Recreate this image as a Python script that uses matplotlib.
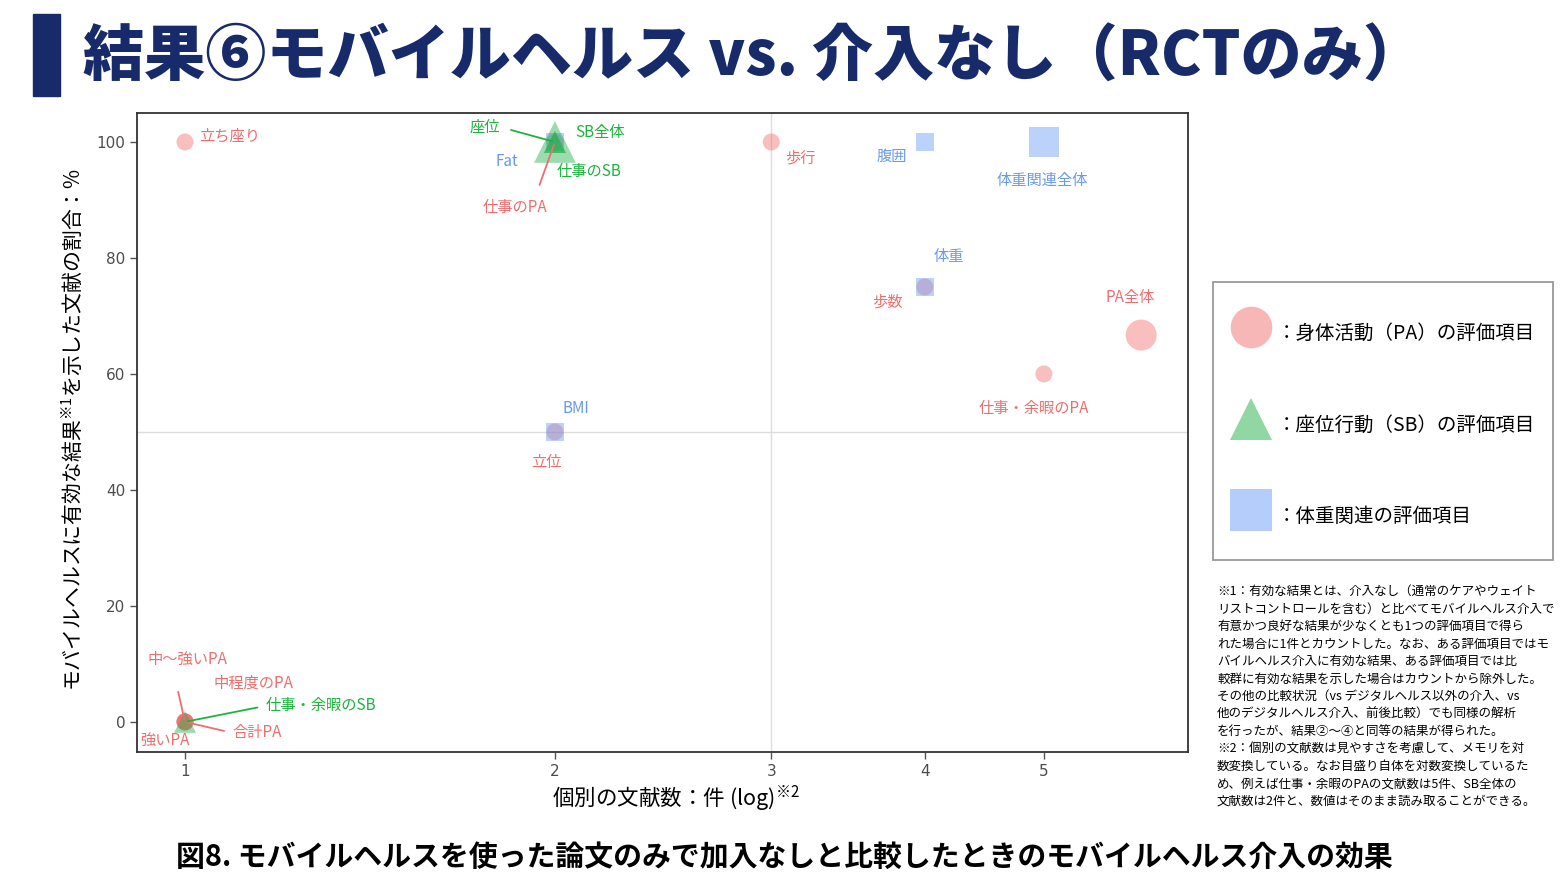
import matplotlib
matplotlib.use("Agg")
import matplotlib.pyplot as plt
from matplotlib.lines import Line2D
from matplotlib.patches import Rectangle

plt.rcParams['font.family'] = ['Noto Sans CJK JP', 'DejaVu Sans']
plt.rcParams['mathtext.fontset'] = 'custom'
plt.rcParams['mathtext.rm'] = 'Noto Sans CJK JP'
plt.rcParams['mathtext.it'] = 'Noto Sans CJK JP'

# data: number of studies (x) and % with an effective result (y)
pa_labels = ['立ち座り', '仕事のPA', '歩行', '歩数', 'PA全体', '仕事・余暇のPA', '立位',
             '中〜強いPA', '中程度のPA', '強いPA', '合計PA']
pa_n = [1, 2, 3, 4, 6, 5, 2, 1, 1, 1, 1]
pa_pct = [100, 100, 100, 75, 66.7, 60, 50, 0, 0, 0, 0]

sb_labels = ['座位', 'SB全体', '仕事のSB', '仕事・余暇のSB']
sb_n = [2, 2, 2, 1]
sb_pct = [100, 100, 100, 0]

wt_labels = ['腹囲', '体重関連全体', 'Fat', '体重', 'BMI']
wt_n = [4, 5, 2, 4, 2]
wt_pct = [100, 100, 100, 75, 50]

x_ticks = [1, 2, 3, 4, 5]
y_ticks = [0, 20, 40, 60, 80, 100]
ref_x, ref_y = 3, 50

legend_labels = ['：身体活動（PA）の評価項目', '：座位行動（SB）の評価項目', '：体重関連の評価項目']

# label placement (offset in pixels from the point), leader line settings
offsets = {
    '立ち座り': (14, 6, 'left'), '仕事のPA': (-40, -66, 'center'), '歩行': (29, -16, 'center'),
    '歩数': (-37, -15, 'center'), 'PA全体': (-11, 38, 'center'), '仕事・余暇のPA': (-10, -35, 'center'),
    '立位': (-8, -31, 'center'), '中〜強いPA': (2, 63, 'center'), '中程度のPA': (68, 39, 'center'),
    '強いPA': (-20, -18, 'center'), '合計PA': (72, -11, 'center'),
    '座位': (-70, 15, 'center'), 'SB全体': (45, 9, 'center'), '仕事のSB': (34, -30, 'center'),
    '仕事・余暇のSB': (136, 16, 'center'),
    '腹囲': (-33, -14, 'center'), '体重関連全体': (-2, -38, 'center'), 'Fat': (-48, -20, 'center'),
    '体重': (24, 30, 'center'), 'BMI': (21, 23, 'center'),
}
leaders = {'仕事のPA': (0.8, 1.0, 9), '中〜強いPA': (0.32, 0.0, 16), '合計PA': (0.0, 0.5, 4),
           '座位': (1.0, 0.5, 6), '仕事・余暇のSB': (0.0, 0.5, 4)}

# drawing order: PA circles, weight squares, SB triangles
groups = [
    (pa_labels, pa_n, pa_pct, 'o', '#F06060', 0.40, '#EC6F6F', 150, 500),
    (wt_labels, wt_n, wt_pct, 's', '#6A9DF8', 0.45, '#6A9BEA', 170, 470),
    (sb_labels, sb_n, sb_pct, '^', '#22B04A', 0.45, '#1DB33F', 250, 900),
]

fig = plt.figure(figsize=(15.68, 8.82), dpi=100)
ax = fig.add_axes([137 / 1568, 130 / 882, 1051 / 1568, 639 / 882])

ax.axhline(ref_y, color='#DDDDDD', lw=1, zorder=0)
ax.axvline(ref_x, color='#DDDDDD', lw=1, zorder=0)

for labels, ns, pcts, mk, fc, al, tc, s_small, s_big in groups:
    sizes = [s_big if lb.endswith('全体') else s_small for lb in labels]
    ax.scatter(ns, pcts, s=sizes, marker=mk, color=fc, alpha=al, edgecolors='none', zorder=2)
    for lb, n, p in zip(labels, ns, pcts):
        dx, dy, ha = offsets[lb]
        kw = {}
        if lb in leaders:
            rx, ry, shr = leaders[lb]
            kw['arrowprops'] = dict(arrowstyle='-', color=tc, lw=1.3, shrinkA=shr, shrinkB=2,
                                    relpos=(rx, ry))
        ax.annotate(lb, (n, p), xytext=(dx, dy), textcoords='offset pixels', ha=ha,
                    va='center', fontsize=11, color=tc, zorder=3, **kw)

ax.set_xscale('log')
ax.set_xlim(0.914, 6.55)
ax.set_ylim(-5.2, 105)
ax.set_xticks(x_ticks)
ax.set_xticklabels([str(t) for t in x_ticks])
ax.xaxis.set_minor_locator(matplotlib.ticker.NullLocator())
ax.set_yticks(y_ticks)
ax.tick_params(labelsize=11, labelcolor='#4D4D4D', color='#555555', length=5, width=1)
for t in ax.get_xticklabels() + ax.get_yticklabels():
    t.set_fontfamily('DejaVu Sans')
for sp in ax.spines.values():
    sp.set_color('#333333')
    sp.set_linewidth(1.3)

ax.set_xlabel(r'個別の文献数：件 (log)$^{\mathrm{※2}}$', fontsize=15.5)
ax.xaxis.set_label_coords(0.513, -0.05)
ax.set_ylabel(r'モバイルヘルスに有効な結果$^{\mathrm{※1}}$を示した文献の割合：%', fontsize=15)
ax.yaxis.set_label_coords(-0.050, 0.504)

# legend: frameless legend inside a drawn box
fig.patches.append(Rectangle((1213 / 1568, 1 - 560 / 882), 340 / 1568, 278 / 882,
                             transform=fig.transFigure, facecolor='white',
                             edgecolor='#999999', lw=1.3, zorder=0))
handles = [Line2D([], [], ls='none', marker=g[3], markersize=30, color=g[4], alpha=g[5] + 0.05,
                  markeredgewidth=0) for g in groups]
order = [0, 2, 1]
fig.legend([handles[i] for i in order], legend_labels, loc='upper left',
           bbox_to_anchor=(1230 / 1568, 1 - 315 / 882), borderaxespad=0, borderpad=0,
           fontsize=14, handlelength=2.14, handleheight=2.5, labelspacing=2.84,
           handletextpad=0.26, frameon=False)

# title and bar
fig.patches.append(Rectangle((33 / 1568, 1 - 96 / 882), 27 / 1568, 82 / 882,
                             transform=fig.transFigure, color='#172B6B'))
fig.text(83 / 1568, 1 - 58 / 882, '結果⑥モバイルヘルス vs. 介入なし（RCTのみ）',
         fontsize=44, fontweight='heavy', color='#172B6B', va='center', ha='left')

note = ('※1：有効な結果とは、介入なし（通常のケアやウェイト\n'
        'リストコントロールを含む）と比べてモバイルヘルス介入で\n'
        '有意かつ良好な結果が少なくとも1つの評価項目で得ら\n'
        'れた場合に1件とカウントした。なお、ある評価項目ではモ\n'
        'バイルヘルス介入に有効な結果、ある評価項目では比\n'
        '較群に有効な結果を示した場合はカウントから除外した。\n'
        'その他の比較状況（vs デジタルヘルス以外の介入、vs\n'
        '他のデジタルヘルス介入、前後比較）でも同様の解析\n'
        'を行ったが、結果②～④と同等の結果が得られた。\n'
        '※2：個別の文献数は見やすさを考慮して、メモリを対\n'
        '数変換している。なお目盛り自体を対数変換しているた\n'
        'め、例えば仕事・余暇のPAの文献数は5件、SB全体の\n'
        '文献数は2件と、数値はそのまま読み取ることができる。')
fig.text(1217 / 1568, 1 - 585 / 882, note, fontsize=9, va='top', ha='left', linespacing=1.45)

fig.text(0.5, 1 - 857 / 882,
         '図8. モバイルヘルスを使った論文のみで加入なしと比較したときのモバイルヘルス介入の効果',
         fontsize=20.8, fontweight='bold', ha='center', va='center')

fig.savefig('out.png', dpi=100)
